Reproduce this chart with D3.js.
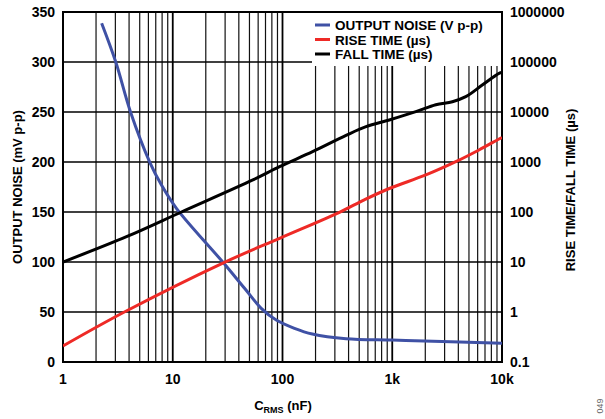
<!DOCTYPE html>
<html><head><meta charset="utf-8">
<script src="https://cdn.jsdelivr.net/npm/d3@7"></script>
<style>body{margin:0;background:#fff}svg{display:block;font-family:Arial,"Liberation Sans",sans-serif;font-weight:bold}</style>
</head><body><svg id="c" width="605" height="419"></svg>
<script>
// Data
const xTicks = [1, 10, 100, 1000, 10000];
const xTickLabels = ["1", "10", "100", "1k", "10k"];
const leftTicks = [0, 50, 100, 150, 200, 250, 300, 350];
const rightTicks = [0.1, 1, 10, 100, 1000, 10000, 100000, 1000000];
const rightTickLabels = ["0.1", "1", "10", "100", "1000", "10000", "100000", "1000000"];

const noiseC = [2.25, 3.03, 4.13, 6.18, 7.89, 10.8, 28.7, 45.1, 64, 87.7, 128.5, 187, 379, 1000, 1950, 10000];
const noiseV = [338.7, 299.7, 249.7, 199.7, 177, 153.7, 99.7, 73.7, 53.7, 42, 33.7, 28, 23.3, 22, 21, 18.7];

const riseC = [1, 3.66, 28.3, 94, 330, 556, 940, 2023, 3793, 6166, 9397, 10000];
const riseT = [0.209, 1.01, 9.42, 29.8, 98.6, 175, 295, 550, 1014, 1738, 2884, 3090];

const fallC = [1, 3.79, 12, 53.7, 94, 188, 379, 577, 940, 1641, 2495, 3532, 4677, 6607, 9397, 10000];
const fallT = [10, 32.1, 100, 437, 805, 1607, 3400, 5082, 6918, 10139, 14000, 16070, 20230, 34670, 59290, 61660];

const legendLabels = ["OUTPUT NOISE (V p-p)", "RISE TIME (µs)", "FALL TIME (µs)"];
const colors = ["#3f51a5", "#ee2a26", "#000000"];

const svg = d3.select("#c");
const L = 63, R = 502, T = 12, B = 362;
const x = d3.scaleLog().domain([1, 10000]).range([L, R]);
const yL = d3.scaleLinear().domain([0, 350]).range([B, T]);
const yR = d3.scaleLog().domain([0.1, 1000000]).range([B, T]);

// grid
const g = svg.append("g");
const minor = [];
for (let d = 1; d < 10000; d *= 10) for (let k = 2; k <= 9; k++) minor.push(d * k);
g.selectAll("line.mv").data(minor).join("line")
  .attr("x1", d => x(d)).attr("x2", d => x(d)).attr("y1", T).attr("y2", B)
  .attr("stroke", "#111").attr("stroke-width", 1.2);
g.selectAll("line.mj").data([10, 100, 1000]).join("line")
  .attr("x1", d => x(d)).attr("x2", d => x(d)).attr("y1", T).attr("y2", B)
  .attr("stroke", "#000").attr("stroke-width", 1.8);
g.selectAll("line.h").data(leftTicks.slice(1, -1)).join("line")
  .attr("x1", L).attr("x2", R).attr("y1", d => yL(d)).attr("y2", d => yL(d))
  .attr("stroke", "#000").attr("stroke-width", 1.4);

// legend background
svg.append("rect").attr("x", 312).attr("y", T).attr("width", R - 312).attr("height", 54).attr("fill", "#fff");

// frame
svg.append("rect").attr("x", L).attr("y", T).attr("width", R - L).attr("height", B - T)
  .attr("fill", "none").attr("stroke", "#000").attr("stroke-width", 2);

// axes labels
const ax = svg.append("g").attr("font-size", 14).attr("fill", "#000");
ax.selectAll("text.l").data(leftTicks).join("text")
  .attr("x", 55).attr("y", d => yL(d) + 5).attr("text-anchor", "end").text(d => d);
ax.selectAll("text.r").data(rightTicks).join("text")
  .attr("x", 510).attr("y", d => yR(d) + 5).attr("text-anchor", "start").text((d, i) => rightTickLabels[i]);
ax.selectAll("text.b").data(xTicks).join("text")
  .attr("x", d => x(d)).attr("y", 384).attr("text-anchor", "middle").text((d, i) => xTickLabels[i]);

// titles
const xt = svg.append("text").attr("x", 283).attr("y", 410).attr("text-anchor", "middle").attr("font-size", 13);
xt.append("tspan").text("C");
xt.append("tspan").attr("font-size", 9).attr("dy", 3).text("RMS");
xt.append("tspan").attr("dy", -3).text(" (nF)");
svg.append("text").attr("transform", "translate(22,187) rotate(-90)").attr("text-anchor", "middle")
  .attr("font-size", 13).text("OUTPUT NOISE (mV p-p)");
svg.append("text").attr("transform", "translate(575,190) rotate(-90)").attr("text-anchor", "middle")
  .attr("font-size", 13).text("RISE TIME/FALL TIME (µs)");
svg.append("text").attr("transform", "translate(603,406) rotate(-90)").attr("text-anchor", "middle")
  .attr("font-size", 9).attr("font-weight", "normal").attr("fill", "#666").text("049");

// curves
svg.append("clipPath").attr("id", "pc").append("rect").attr("x", L).attr("y", T).attr("width", R - L).attr("height", B - T);
const line = d3.line().curve(d3.curveCatmullRom.alpha(0.5));
const series = [
  noiseC.map((c, i) => [x(c), yL(noiseV[i])]),
  riseC.map((c, i) => [x(c), yR(riseT[i])]),
  fallC.map((c, i) => [x(c), yR(fallT[i])])
];
svg.append("g").attr("clip-path", "url(#pc)").selectAll("path").data(series).join("path")
  .attr("d", d => line(d)).attr("fill", "none").attr("stroke", (d, i) => colors[i]).attr("stroke-width", 3);

// legend
const lg = svg.append("g").attr("font-size", 13.5);
legendLabels.forEach((t, i) => {
  const yy = 25 + i * 14.5;
  lg.append("line").attr("x1", 315).attr("x2", 330).attr("y1", yy).attr("y2", yy).attr("stroke", colors[i]).attr("stroke-width", 3);
  lg.append("text").attr("x", 335).attr("y", yy + 5).text(t);
});
</script></body></html>
